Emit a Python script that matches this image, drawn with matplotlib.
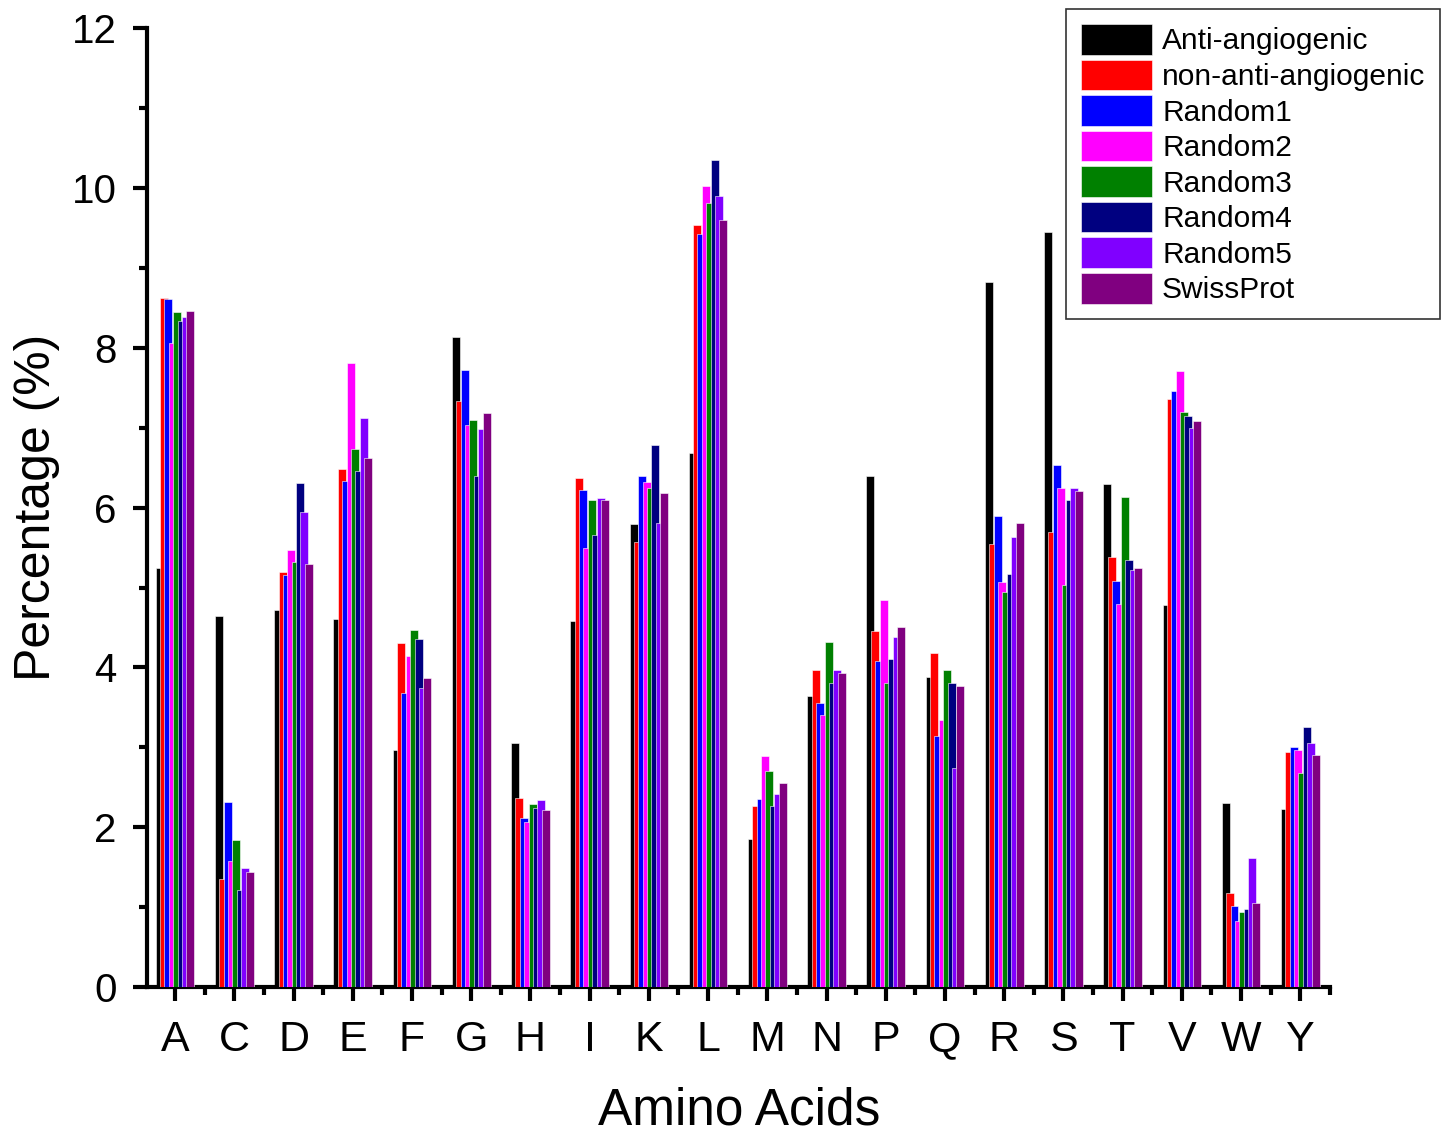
import matplotlib
matplotlib.use('Agg')
import matplotlib.pyplot as plt
import numpy as np
from matplotlib.ticker import MultipleLocator

plt.rcParams['font.family'] = ['Liberation Sans', 'DejaVu Sans']

amino = ['A', 'C', 'D', 'E', 'F', 'G', 'H', 'I', 'K', 'L',
         'M', 'N', 'P', 'Q', 'R', 'S', 'T', 'V', 'W', 'Y']

anti = [5.24, 4.64, 4.72, 4.60, 2.97, 8.14, 3.05, 4.58, 5.80, 6.69,
        1.85, 3.64, 6.39, 3.88, 8.82, 9.45, 6.30, 4.78, 2.30, 2.23]
non_anti = [8.62, 1.35, 5.19, 6.48, 4.31, 7.34, 2.36, 6.37, 5.57, 9.54,
            2.27, 3.97, 4.45, 4.18, 5.54, 5.70, 5.38, 7.36, 1.18, 2.94]
random1 = [8.61, 2.31, 5.16, 6.33, 3.68, 7.72, 2.11, 6.22, 6.39, 9.43,
           2.35, 3.55, 4.08, 3.14, 5.89, 6.53, 5.08, 7.46, 1.01, 3.00]
random2 = [8.06, 1.58, 5.47, 7.81, 4.14, 7.03, 2.06, 5.49, 6.32, 10.03,
           2.89, 3.40, 4.85, 3.34, 5.07, 6.25, 4.80, 7.71, 0.82, 2.96]
random3 = [8.45, 1.84, 5.32, 6.73, 4.47, 7.10, 2.29, 6.09, 6.25, 9.81,
           2.70, 4.32, 3.80, 3.97, 4.94, 5.03, 6.13, 7.20, 0.94, 2.68]
random4 = [8.34, 1.21, 6.31, 6.46, 4.36, 6.40, 2.24, 5.66, 6.78, 10.35,
           2.26, 3.80, 4.11, 3.80, 5.17, 6.10, 5.34, 7.15, 0.98, 3.26]
random5 = [8.39, 1.49, 5.94, 7.12, 3.74, 6.99, 2.34, 6.12, 5.81, 9.90,
           2.41, 3.97, 4.38, 2.74, 5.63, 6.25, 5.22, 7.00, 1.61, 3.05]
swissprot = [8.46, 1.44, 5.30, 6.62, 3.87, 7.19, 2.22, 6.10, 6.18, 9.60,
             2.55, 3.93, 4.51, 3.77, 5.81, 6.21, 5.25, 7.09, 1.05, 2.90]

series = [anti, non_anti, random1, random2, random3, random4, random5, swissprot]
names = ['Anti-angiogenic', 'non-anti-angiogenic', 'Random1', 'Random2',
         'Random3', 'Random4', 'Random5', 'SwissProt']
colors = ['#000000', '#FF0000', '#0000FF', '#FF00FF',
          '#008000', '#000080', '#8000FF', '#800080']

fig = plt.figure(figsize=(14.46, 11.33), dpi=100)
ax = fig.add_axes([0.1017, 0.1289, 0.8183, 0.8461])

x = np.arange(len(amino))
step = 0.074
width = 0.135
for i, (vals, name, c) in enumerate(zip(series, names, colors)):
    off = (i - 3.5) * step
    ax.bar(x + off, vals, width, color=c, label=name,
           edgecolor='white', linewidth=0.4, zorder=2 + i)

ax.set_xlim(-0.473, 19.507)
ax.set_ylim(0, 12)
ax.set_xticks(x)
ax.set_xticklabels(amino)
ax.xaxis.set_minor_locator(MultipleLocator(0.5))
ax.yaxis.set_major_locator(MultipleLocator(2))
ax.yaxis.set_minor_locator(MultipleLocator(1))

for s in ['top', 'right']:
    ax.spines[s].set_visible(False)
for s in ['left', 'bottom']:
    ax.spines[s].set_linewidth(3)

ax.tick_params(axis='both', which='major', direction='out', length=10, width=3)
ax.tick_params(axis='both', which='minor', direction='out', length=6, width=3)
ax.tick_params(axis='x', which='major', labelsize=31, pad=14)
ax.tick_params(axis='y', which='major', labelsize=29, pad=12)

ax.set_xlabel('Amino Acids', fontsize=37, labelpad=19)
ax.set_ylabel('Percentage (%)', fontsize=36, labelpad=8)

leg = fig.legend(loc='upper right', bbox_to_anchor=(0.996, 0.992),
                 fontsize=21.5, frameon=True, fancybox=False,
                 edgecolor='black', handlelength=2.35, handleheight=1.2,
                 labelspacing=0.14, handletextpad=0.35, borderpad=0.5,
                 borderaxespad=0.0)
leg.get_frame().set_linewidth(1.2)

fig.savefig('out.png', dpi=100)
